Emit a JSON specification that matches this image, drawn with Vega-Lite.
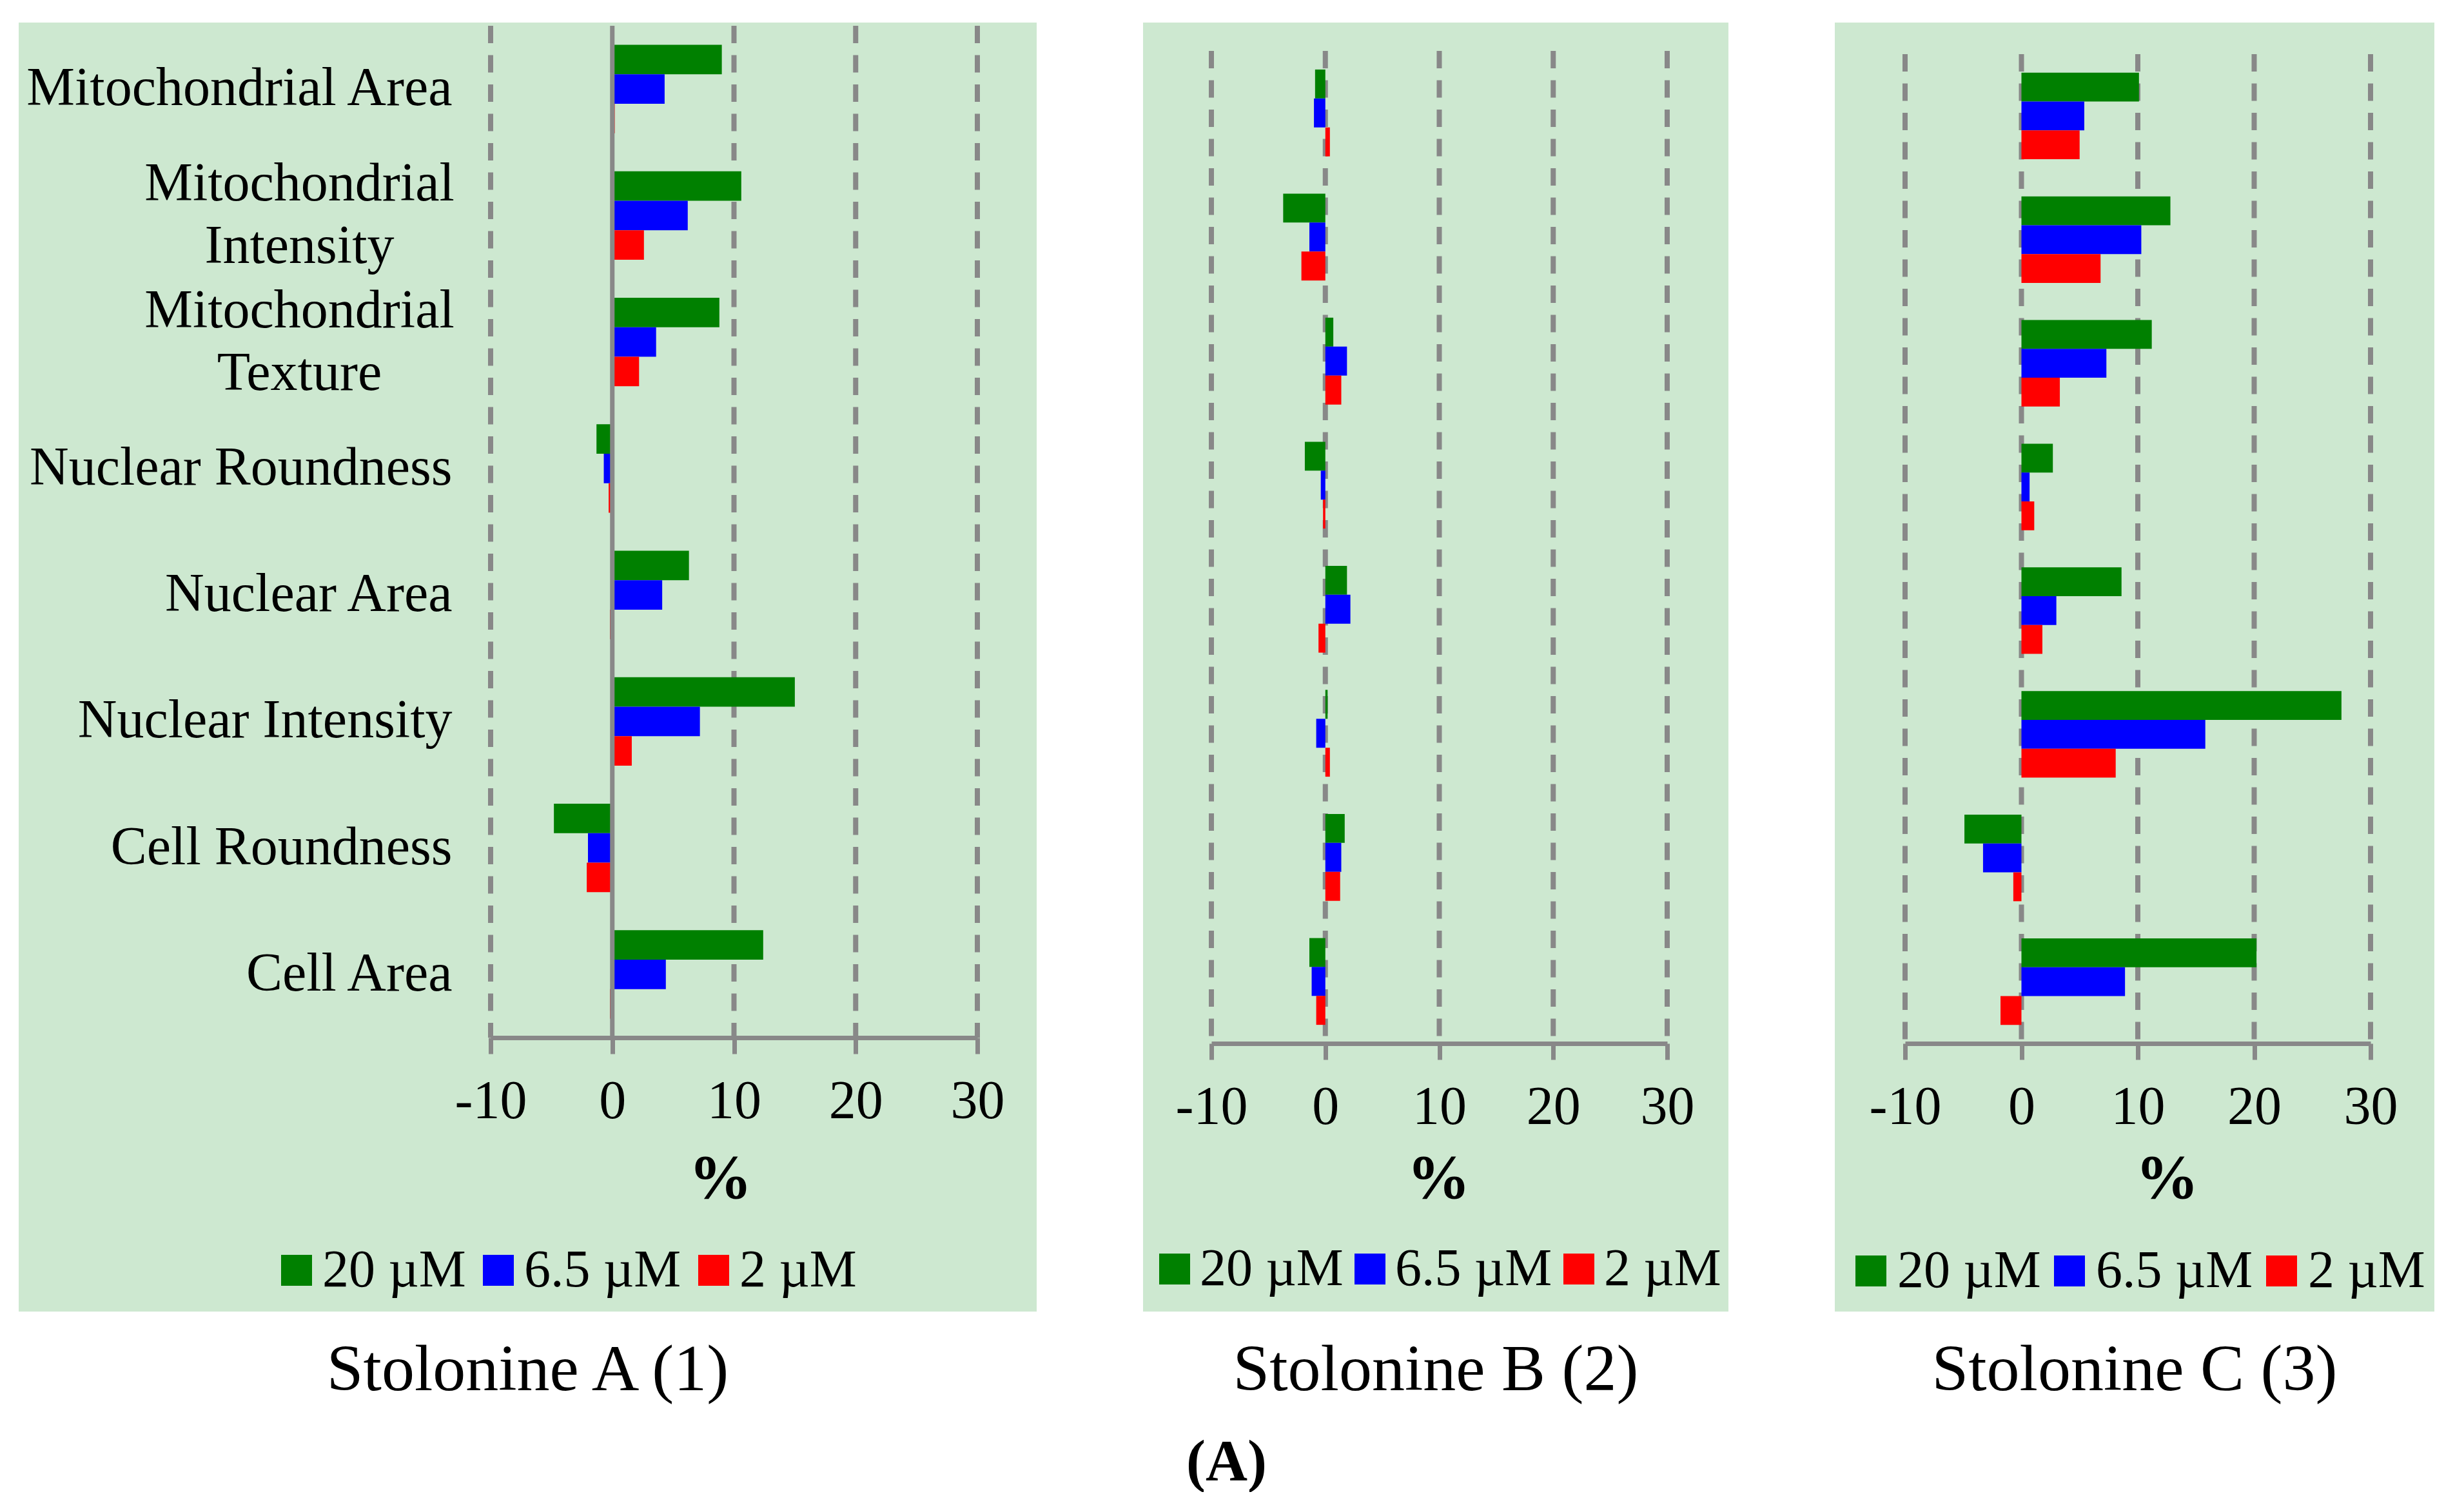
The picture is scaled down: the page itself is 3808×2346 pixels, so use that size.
{
  "$schema": "https://vega.github.io/schema/vega-lite/v6.json",
  "background": "white",
  "padding": {"left": 29, "top": 35, "right": 0, "bottom": 0},
  "bounds": "flush",
  "spacing": 165,
  "title": {
    "text": "(A)",
    "orient": "bottom",
    "anchor": "middle",
    "font": "Liberation Serif",
    "fontSize": 90,
    "fontWeight": "bold",
    "color": "black",
    "baseline": "alphabetic",
    "offset": 120
  },
  "config": {
    "view": {"fill": "#CDE8D0", "stroke": null},
    "font": "Liberation Serif"
  },
  "datasets": {
    "effects": [
      {"compound": "A", "feature": "Mitochondrial Area", "conc": "20 µM", "pct": 9.0},
      {"compound": "A", "feature": "Mitochondrial Area", "conc": "6.5 µM", "pct": 4.3},
      {"compound": "A", "feature": "Mitochondrial Area", "conc": "2 µM", "pct": 0.2},
      {"compound": "A", "feature": "Mitochondrial Intensity", "conc": "20 µM", "pct": 10.6},
      {"compound": "A", "feature": "Mitochondrial Intensity", "conc": "6.5 µM", "pct": 6.2},
      {"compound": "A", "feature": "Mitochondrial Intensity", "conc": "2 µM", "pct": 2.6},
      {"compound": "A", "feature": "Mitochondrial Texture", "conc": "20 µM", "pct": 8.8},
      {"compound": "A", "feature": "Mitochondrial Texture", "conc": "6.5 µM", "pct": 3.6},
      {"compound": "A", "feature": "Mitochondrial Texture", "conc": "2 µM", "pct": 2.2},
      {"compound": "A", "feature": "Nuclear Roundness", "conc": "20 µM", "pct": -1.3},
      {"compound": "A", "feature": "Nuclear Roundness", "conc": "6.5 µM", "pct": -0.7},
      {"compound": "A", "feature": "Nuclear Roundness", "conc": "2 µM", "pct": -0.3},
      {"compound": "A", "feature": "Nuclear Area", "conc": "20 µM", "pct": 6.3},
      {"compound": "A", "feature": "Nuclear Area", "conc": "6.5 µM", "pct": 4.1},
      {"compound": "A", "feature": "Nuclear Area", "conc": "2 µM", "pct": -0.2},
      {"compound": "A", "feature": "Nuclear Intensity", "conc": "20 µM", "pct": 15.0},
      {"compound": "A", "feature": "Nuclear Intensity", "conc": "6.5 µM", "pct": 7.2},
      {"compound": "A", "feature": "Nuclear Intensity", "conc": "2 µM", "pct": 1.6},
      {"compound": "A", "feature": "Cell Roundness", "conc": "20 µM", "pct": -4.8},
      {"compound": "A", "feature": "Cell Roundness", "conc": "6.5 µM", "pct": -2.0},
      {"compound": "A", "feature": "Cell Roundness", "conc": "2 µM", "pct": -2.1},
      {"compound": "A", "feature": "Cell Area", "conc": "20 µM", "pct": 12.4},
      {"compound": "A", "feature": "Cell Area", "conc": "6.5 µM", "pct": 4.4},
      {"compound": "A", "feature": "Cell Area", "conc": "2 µM", "pct": -0.2},

      {"compound": "B", "feature": "Mitochondrial Area", "conc": "20 µM", "pct": -0.9},
      {"compound": "B", "feature": "Mitochondrial Area", "conc": "6.5 µM", "pct": -1.0},
      {"compound": "B", "feature": "Mitochondrial Area", "conc": "2 µM", "pct": 0.4},
      {"compound": "B", "feature": "Mitochondrial Intensity", "conc": "20 µM", "pct": -3.7},
      {"compound": "B", "feature": "Mitochondrial Intensity", "conc": "6.5 µM", "pct": -1.4},
      {"compound": "B", "feature": "Mitochondrial Intensity", "conc": "2 µM", "pct": -2.1},
      {"compound": "B", "feature": "Mitochondrial Texture", "conc": "20 µM", "pct": 0.7},
      {"compound": "B", "feature": "Mitochondrial Texture", "conc": "6.5 µM", "pct": 1.9},
      {"compound": "B", "feature": "Mitochondrial Texture", "conc": "2 µM", "pct": 1.4},
      {"compound": "B", "feature": "Nuclear Roundness", "conc": "20 µM", "pct": -1.8},
      {"compound": "B", "feature": "Nuclear Roundness", "conc": "6.5 µM", "pct": -0.4},
      {"compound": "B", "feature": "Nuclear Roundness", "conc": "2 µM", "pct": -0.2},
      {"compound": "B", "feature": "Nuclear Area", "conc": "20 µM", "pct": 1.9},
      {"compound": "B", "feature": "Nuclear Area", "conc": "6.5 µM", "pct": 2.2},
      {"compound": "B", "feature": "Nuclear Area", "conc": "2 µM", "pct": -0.6},
      {"compound": "B", "feature": "Nuclear Intensity", "conc": "20 µM", "pct": 0.2},
      {"compound": "B", "feature": "Nuclear Intensity", "conc": "6.5 µM", "pct": -0.8},
      {"compound": "B", "feature": "Nuclear Intensity", "conc": "2 µM", "pct": 0.4},
      {"compound": "B", "feature": "Cell Roundness", "conc": "20 µM", "pct": 1.7},
      {"compound": "B", "feature": "Cell Roundness", "conc": "6.5 µM", "pct": 1.4},
      {"compound": "B", "feature": "Cell Roundness", "conc": "2 µM", "pct": 1.3},
      {"compound": "B", "feature": "Cell Area", "conc": "20 µM", "pct": -1.4},
      {"compound": "B", "feature": "Cell Area", "conc": "6.5 µM", "pct": -1.2},
      {"compound": "B", "feature": "Cell Area", "conc": "2 µM", "pct": -0.8},

      {"compound": "C", "feature": "Mitochondrial Area", "conc": "20 µM", "pct": 10.1},
      {"compound": "C", "feature": "Mitochondrial Area", "conc": "6.5 µM", "pct": 5.4},
      {"compound": "C", "feature": "Mitochondrial Area", "conc": "2 µM", "pct": 5.0},
      {"compound": "C", "feature": "Mitochondrial Intensity", "conc": "20 µM", "pct": 12.8},
      {"compound": "C", "feature": "Mitochondrial Intensity", "conc": "6.5 µM", "pct": 10.3},
      {"compound": "C", "feature": "Mitochondrial Intensity", "conc": "2 µM", "pct": 6.8},
      {"compound": "C", "feature": "Mitochondrial Texture", "conc": "20 µM", "pct": 11.2},
      {"compound": "C", "feature": "Mitochondrial Texture", "conc": "6.5 µM", "pct": 7.3},
      {"compound": "C", "feature": "Mitochondrial Texture", "conc": "2 µM", "pct": 3.3},
      {"compound": "C", "feature": "Nuclear Roundness", "conc": "20 µM", "pct": 2.7},
      {"compound": "C", "feature": "Nuclear Roundness", "conc": "6.5 µM", "pct": 0.7},
      {"compound": "C", "feature": "Nuclear Roundness", "conc": "2 µM", "pct": 1.1},
      {"compound": "C", "feature": "Nuclear Area", "conc": "20 µM", "pct": 8.6},
      {"compound": "C", "feature": "Nuclear Area", "conc": "6.5 µM", "pct": 3.0},
      {"compound": "C", "feature": "Nuclear Area", "conc": "2 µM", "pct": 1.8},
      {"compound": "C", "feature": "Nuclear Intensity", "conc": "20 µM", "pct": 27.5},
      {"compound": "C", "feature": "Nuclear Intensity", "conc": "6.5 µM", "pct": 15.8},
      {"compound": "C", "feature": "Nuclear Intensity", "conc": "2 µM", "pct": 8.1},
      {"compound": "C", "feature": "Cell Roundness", "conc": "20 µM", "pct": -4.9},
      {"compound": "C", "feature": "Cell Roundness", "conc": "6.5 µM", "pct": -3.3},
      {"compound": "C", "feature": "Cell Roundness", "conc": "2 µM", "pct": -0.7},
      {"compound": "C", "feature": "Cell Area", "conc": "20 µM", "pct": 20.2},
      {"compound": "C", "feature": "Cell Area", "conc": "6.5 µM", "pct": 8.9},
      {"compound": "C", "feature": "Cell Area", "conc": "2 µM", "pct": -1.8}
    ]
  },
  "resolve": {
    "scale": {"x": "independent", "y": "independent", "yOffset": "independent"},
    "axis": {"x": "independent", "y": "independent"},
    "legend": {"color": "independent"}
  },
  "hconcat": [
    {
      "width": 1579,
      "height": 2000,
      "title": {
        "text": "Stolonine A (1)",
        "orient": "bottom",
        "anchor": "middle",
        "frame": "group",
        "font": "Liberation Serif",
        "fontSize": 102,
        "fontWeight": "normal",
        "color": "black",
        "baseline": "alphabetic",
        "offset": 122
      },
      "resolve": {"scale": {"y": "independent"}},
      "layer": [
        {
          "data": {"values": [{"tick": -10}, {"tick": 10}, {"tick": 20}, {"tick": 30}]},
          "mark": {"type": "rule", "color": "#888888", "strokeWidth": 8, "strokeDash": [27, 18.5]},
          "encoding": {
            "x": {"field": "tick", "type": "quantitative", "scale": {"domain": [-10, 30], "range": [732, 1487], "nice": false, "zero": false}},
            "y": {"datum": 1, "type": "quantitative", "scale": {"domain": [0, 1], "range": [1575, 5]}, "axis": null},
            "y2": {"datum": 0}
          }
        },
        {
          "data": {"name": "effects"},
          "transform": [{"filter": "datum.compound == 'A'"}],
          "mark": {"type": "bar"},
          "encoding": {
            "y": {
              "field": "feature",
              "type": "nominal",
              "sort": ["Mitochondrial Area", "Mitochondrial Intensity", "Mitochondrial Texture", "Nuclear Roundness", "Nuclear Area", "Nuclear Intensity", "Cell Roundness", "Cell Area"],
              "scale": {"range": [5, 1575], "paddingInner": 0.3, "paddingOuter": 0.15},
              "axis": {
                "offset": -672,
                "domain": false,
                "ticks": false,
                "tickSize": 0,
                "grid": false,
                "title": null,
                "labelFont": "Liberation Serif",
                "labelFontSize": 84,
                "labelColor": "black",
                "labelLimit": 0,
                "labelLineHeight": 97,
                "labelBaseline": "middle",
                "labelAlign": {"condition": {"test": "datum.value == 'Mitochondrial Intensity' || datum.value == 'Mitochondrial Texture'", "value": "center"}, "value": "right"},
                "labelPadding": {"condition": {"test": "datum.value == 'Mitochondrial Intensity' || datum.value == 'Mitochondrial Texture'", "value": 237}, "value": 0},
                "labelOffset": {"condition": {"test": "datum.value == 'Mitochondrial Intensity' || datum.value == 'Mitochondrial Texture'", "value": -48}, "value": 0},
                "labelExpr": "datum.value == 'Mitochondrial Intensity' ? ['Mitochondrial', 'Intensity'] : datum.value == 'Mitochondrial Texture' ? ['Mitochondrial', 'Texture'] : datum.label"
              }
            },
            "yOffset": {"field": "conc", "type": "nominal", "sort": ["20 µM", "6.5 µM", "2 µM"], "scale": {"paddingInner": 0, "paddingOuter": 0}},
            "x": {
              "field": "pct",
              "type": "quantitative",
              "scale": {"domain": [-10, 30], "range": [732, 1487], "nice": false, "zero": false},
              "axis": {
                "values": [-10, 0, 10, 20, 30],
                "labelExpr": "'' + datum.value",
                "offset": -425,
                "grid": false,
                "domainColor": "#888888",
                "domainWidth": 7,
                "tickColor": "#888888",
                "tickWidth": 7,
                "tickSize": 25,
                "labelFont": "Liberation Serif",
                "labelFontSize": 84,
                "labelColor": "black",
                "labelPadding": 33,
                "labelFlush": false,
                "labelOverlap": false,
                "title": "%",
                "titleFont": "Liberation Serif",
                "titleFontSize": 98,
                "titleFontWeight": "bold",
                "titleColor": "black",
                "titleBaseline": "alphabetic",
                "titleY": 248,
                "titleX": 1088
              }
            },
            "color": {
              "field": "conc",
              "type": "nominal",
              "scale": {"domain": ["20 µM", "6.5 µM", "2 µM"], "range": ["#008000", "#0000FF", "#FF0000"]},
              "legend": {
                "orient": "none",
                "legendX": 390,
                "legendY": 1895,
                "direction": "horizontal",
                "columns": 3,
                "title": null,
                "padding": 0,
                "symbolType": "square",
                "symbolSize": 2304,
                "symbolStrokeWidth": 0,
                "labelFont": "Liberation Serif",
                "labelFontSize": 82,
                "labelColor": "black",
                "labelLimit": 0,
                "labelOffset": -1,
                "columnPadding": 9
              }
            }
          }
        },
        {
          "data": {"values": [{"tick": 0}]},
          "mark": {"type": "rule", "color": "#888888", "strokeWidth": 7},
          "encoding": {
            "x": {"field": "tick", "type": "quantitative", "scale": {"domain": [-10, 30], "range": [732, 1487], "nice": false, "zero": false}},
            "y": {"datum": 1, "type": "quantitative", "scale": {"domain": [0, 1], "range": [1575, 5]}, "axis": null},
            "y2": {"datum": 0}
          }
        }
      ]
    },
    {
      "width": 908,
      "height": 2000,
      "title": {
        "text": "Stolonine B (2)",
        "orient": "bottom",
        "anchor": "middle",
        "frame": "group",
        "font": "Liberation Serif",
        "fontSize": 102,
        "fontWeight": "normal",
        "color": "black",
        "baseline": "alphabetic",
        "offset": 122
      },
      "resolve": {"scale": {"y": "independent"}},
      "layer": [
        {
          "data": {"values": [{"tick": -10}, {"tick": 0}, {"tick": 10}, {"tick": 20}, {"tick": 30}]},
          "mark": {"type": "rule", "color": "#888888", "strokeWidth": 8, "strokeDash": [27, 18.5]},
          "encoding": {
            "x": {"field": "tick", "type": "quantitative", "scale": {"domain": [-10, 30], "range": [106, 813], "nice": false, "zero": false}},
            "y": {"datum": 1, "type": "quantitative", "scale": {"domain": [0, 1], "range": [1584, 44]}, "axis": null},
            "y2": {"datum": 0}
          }
        },
        {
          "data": {"name": "effects"},
          "transform": [{"filter": "datum.compound == 'B'"}],
          "mark": {"type": "bar"},
          "encoding": {
            "y": {
              "field": "feature",
              "type": "nominal",
              "sort": ["Mitochondrial Area", "Mitochondrial Intensity", "Mitochondrial Texture", "Nuclear Roundness", "Nuclear Area", "Nuclear Intensity", "Cell Roundness", "Cell Area"],
              "scale": {"range": [44, 1584], "paddingInner": 0.3, "paddingOuter": 0.15},
              "axis": null
            },
            "yOffset": {"field": "conc", "type": "nominal", "sort": ["20 µM", "6.5 µM", "2 µM"], "scale": {"paddingInner": 0, "paddingOuter": 0}},
            "x": {
              "field": "pct",
              "type": "quantitative",
              "scale": {"domain": [-10, 30], "range": [106, 813], "nice": false, "zero": false},
              "axis": {
                "values": [-10, 0, 10, 20, 30],
                "labelExpr": "'' + datum.value",
                "offset": -416,
                "grid": false,
                "domainColor": "#888888",
                "domainWidth": 7,
                "tickColor": "#888888",
                "tickWidth": 7,
                "tickSize": 25,
                "labelFont": "Liberation Serif",
                "labelFontSize": 84,
                "labelColor": "black",
                "labelPadding": 33,
                "labelFlush": false,
                "labelOverlap": false,
                "title": "%",
                "titleFont": "Liberation Serif",
                "titleFontSize": 98,
                "titleFontWeight": "bold",
                "titleColor": "black",
                "titleBaseline": "alphabetic",
                "titleY": 239,
                "titleX": 458
              }
            },
            "color": {
              "field": "conc",
              "type": "nominal",
              "scale": {"domain": ["20 µM", "6.5 µM", "2 µM"], "range": ["#008000", "#0000FF", "#FF0000"]},
              "legend": {
                "orient": "none",
                "legendX": 8,
                "legendY": 1893,
                "direction": "horizontal",
                "columns": 3,
                "title": null,
                "padding": 0,
                "symbolType": "square",
                "symbolSize": 2304,
                "symbolStrokeWidth": 0,
                "labelFont": "Liberation Serif",
                "labelFontSize": 82,
                "labelColor": "black",
                "labelLimit": 0,
                "labelOffset": -2,
                "columnPadding": 0
              }
            }
          }
        }
      ]
    },
    {
      "width": 930,
      "height": 2000,
      "title": {
        "text": "Stolonine C (3)",
        "orient": "bottom",
        "anchor": "middle",
        "frame": "group",
        "font": "Liberation Serif",
        "fontSize": 102,
        "fontWeight": "normal",
        "color": "black",
        "baseline": "alphabetic",
        "offset": 122
      },
      "resolve": {"scale": {"y": "independent"}},
      "layer": [
        {
          "data": {"values": [{"tick": -10}, {"tick": 0}, {"tick": 10}, {"tick": 20}, {"tick": 30}]},
          "mark": {"type": "rule", "color": "#888888", "strokeWidth": 8, "strokeDash": [27, 18.5]},
          "encoding": {
            "x": {"field": "tick", "type": "quantitative", "scale": {"domain": [-10, 30], "range": [109, 831], "nice": false, "zero": false}},
            "y": {"datum": 1, "type": "quantitative", "scale": {"domain": [0, 1], "range": [1584, 49]}, "axis": null},
            "y2": {"datum": 0}
          }
        },
        {
          "data": {"name": "effects"},
          "transform": [{"filter": "datum.compound == 'C'"}],
          "mark": {"type": "bar"},
          "encoding": {
            "y": {
              "field": "feature",
              "type": "nominal",
              "sort": ["Mitochondrial Area", "Mitochondrial Intensity", "Mitochondrial Texture", "Nuclear Roundness", "Nuclear Area", "Nuclear Intensity", "Cell Roundness", "Cell Area"],
              "scale": {"range": [49, 1584], "paddingInner": 0.3, "paddingOuter": 0.15},
              "axis": null
            },
            "yOffset": {"field": "conc", "type": "nominal", "sort": ["20 µM", "6.5 µM", "2 µM"], "scale": {"paddingInner": 0, "paddingOuter": 0}},
            "x": {
              "field": "pct",
              "type": "quantitative",
              "scale": {"domain": [-10, 30], "range": [109, 831], "nice": false, "zero": false},
              "axis": {
                "values": [-10, 0, 10, 20, 30],
                "labelExpr": "'' + datum.value",
                "offset": -416,
                "grid": false,
                "domainColor": "#888888",
                "domainWidth": 7,
                "tickColor": "#888888",
                "tickWidth": 7,
                "tickSize": 25,
                "labelFont": "Liberation Serif",
                "labelFontSize": 84,
                "labelColor": "black",
                "labelPadding": 33,
                "labelFlush": false,
                "labelOverlap": false,
                "title": "%",
                "titleFont": "Liberation Serif",
                "titleFontSize": 98,
                "titleFontWeight": "bold",
                "titleColor": "black",
                "titleBaseline": "alphabetic",
                "titleY": 239,
                "titleX": 515
              }
            },
            "color": {
              "field": "conc",
              "type": "nominal",
              "scale": {"domain": ["20 µM", "6.5 µM", "2 µM"], "range": ["#008000", "#0000FF", "#FF0000"]},
              "legend": {
                "orient": "none",
                "legendX": 15,
                "legendY": 1896,
                "direction": "horizontal",
                "columns": 3,
                "title": null,
                "padding": 0,
                "symbolType": "square",
                "symbolSize": 2304,
                "symbolStrokeWidth": 0,
                "labelFont": "Liberation Serif",
                "labelFontSize": 82,
                "labelColor": "black",
                "labelLimit": 0,
                "labelOffset": 0,
                "columnPadding": 3
              }
            }
          }
        }
      ]
    }
  ]
}
